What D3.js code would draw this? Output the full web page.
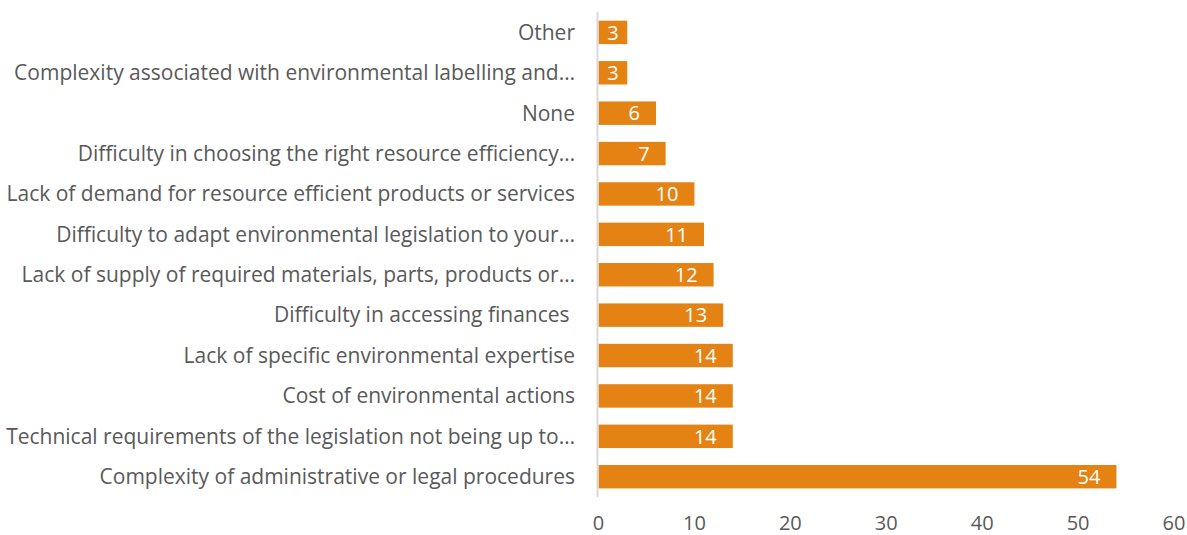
<!DOCTYPE html>
<html>
<head>
<meta charset="utf-8">
<script src="https://cdn.jsdelivr.net/npm/d3@7"></script>
<style>
  html, body { margin: 0; padding: 0; background: #ffffff; }
  svg text { font-family: "Open Sans", Lato, sans-serif; white-space: pre; }
</style>
</head>
<body>
<svg id="chart" width="1187" height="535"></svg>
<script>
// Barriers listed top to bottom, with the share of respondents for each
const categories = [
  "Other",
  "Complexity associated with environmental labelling and…",
  "None",
  "Difficulty in choosing the right resource efficiency…",
  "Lack of demand for resource efficient products or services",
  "Difficulty to adapt environmental legislation to your…",
  "Lack of supply of required materials, parts, products or…",
  "Difficulty in accessing finances ",
  "Lack of specific environmental expertise",
  "Cost of environmental actions",
  "Technical requirements of the legislation not being up to…",
  "Complexity of administrative or legal procedures"
];
const values = [3, 3, 6, 7, 10, 11, 12, 13, 14, 14, 14, 54];
const xTicks = [0, 10, 20, 30, 40, 50, 60];

const svg = d3.select("#chart");
const barColor = "#E48314";
const textColor = "#595959";

const x = d3.scaleLinear().domain([0, 60]).range([598.5, 1174]);
const y = d3.scaleBand().domain(categories).range([12.2, 496.9]).paddingInner(0.42).paddingOuter(0.21);

// bars
svg.append("g").selectAll("rect")
  .data(values)
  .join("rect")
  .attr("x", x(0))
  .attr("y", (d, i) => y(categories[i]))
  .attr("width", d => x(d) - x(0))
  .attr("height", y.bandwidth())
  .attr("fill", barColor);

// category axis line
svg.append("line")
  .attr("x1", 597.5).attr("x2", 597.5)
  .attr("y1", y.range()[0]).attr("y2", y.range()[1])
  .attr("stroke", "#d9d9d9").attr("stroke-width", 2);

// category labels
svg.append("g").selectAll("text")
  .data(categories)
  .join("text")
  .attr("x", 575)
  .attr("y", d => y(d) + y.bandwidth() / 2)
  .attr("dy", "0.35em")
  .attr("text-anchor", "end")
  .attr("font-size", 21)
  .attr("fill", textColor)
  .text(d => d);

// value labels inside the bar ends
const labels = svg.append("g").selectAll("text")
  .data(values)
  .join("text")
  .attr("y", (d, i) => y(categories[i]) + y.bandwidth() / 2)
  .attr("dy", "0.36em")
  .attr("text-anchor", "end")
  .attr("font-size", 20)
  .attr("fill", "#ffffff")
  .text(d => d);
labels.each(function(d) {
  const w = this.getComputedTextLength();
  const end = x(d) - 16;
  const centred = (x(0) + x(d)) / 2 + w / 2;
  d3.select(this).attr("x", Math.max(end, centred));
});

// value axis tick labels
svg.append("g").selectAll("text")
  .data(xTicks)
  .join("text")
  .attr("x", d => x(d))
  .attr("y", 529.5)
  .attr("text-anchor", "middle")
  .attr("font-size", 20)
  .attr("fill", textColor)
  .text(d => d);
</script>
</body>
</html>
